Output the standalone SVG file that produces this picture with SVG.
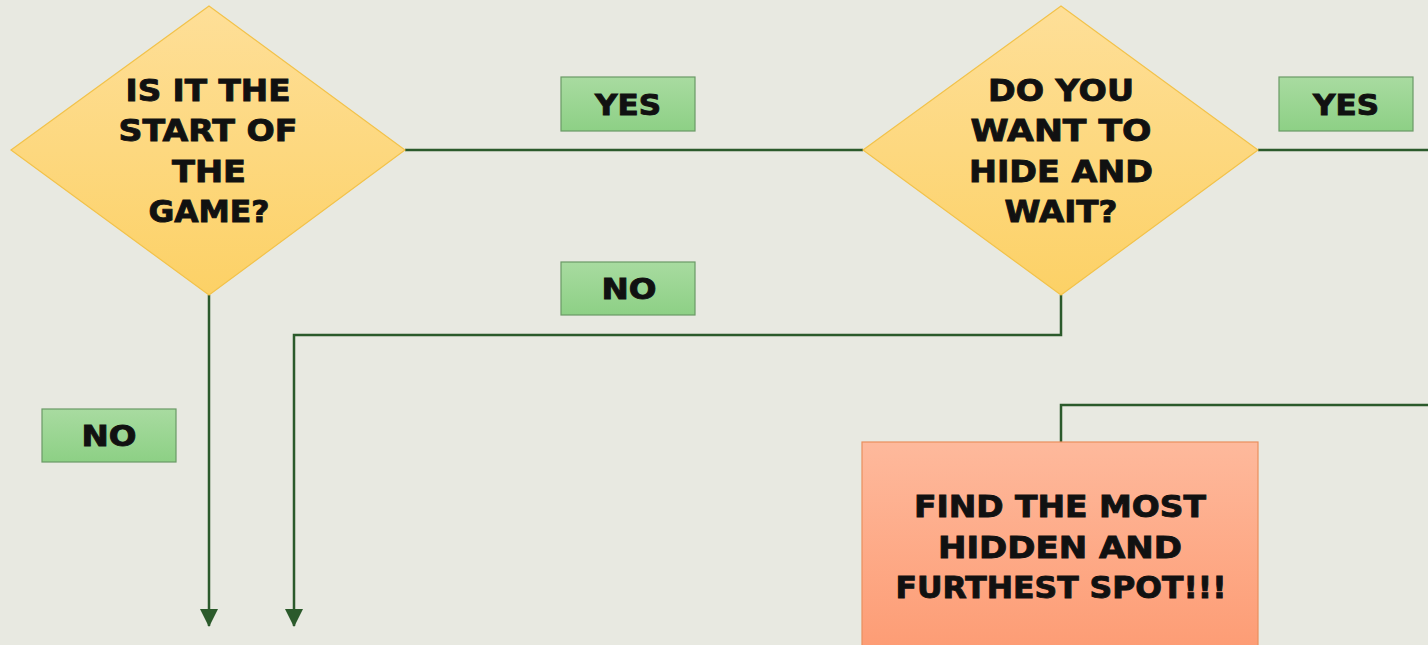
<svg xmlns="http://www.w3.org/2000/svg" width="1428" height="645" viewBox="0 0 1428 645">
<defs>
<linearGradient id="gy" x1="0" y1="0" x2="0" y2="1"><stop offset="0" stop-color="#fedf98"/><stop offset="1" stop-color="#fcd166"/></linearGradient>
<linearGradient id="gg" x1="0" y1="0" x2="0" y2="1"><stop offset="0" stop-color="#a8dba0"/><stop offset="1" stop-color="#8dd085"/></linearGradient>
<linearGradient id="go" x1="0" y1="0" x2="0" y2="1"><stop offset="0" stop-color="#feb99c"/><stop offset="1" stop-color="#fd9c74"/></linearGradient>
<marker id="arr" markerWidth="18" markerHeight="18" refX="17" refY="9" orient="auto" markerUnits="userSpaceOnUse" viewBox="0 0 18 18"><path d="M0,0 L18,9 L0,18 Z" fill="#2b5a2b"/></marker>
</defs>
<style>
.t{font-family:"DejaVu Sans","Liberation Sans",sans-serif;font-weight:bold;fill:#111;stroke:#111;stroke-width:0.9;text-anchor:middle}
.d{fill:url(#gy);stroke:#f2c24a;stroke-width:1.2}
.l{fill:url(#gg);stroke:#6a9a66;stroke-width:1.2}
.c{fill:none;stroke:#2b5a2b;stroke-width:2.5}
</style>
<rect width="1428" height="645" fill="#e8e9e1"/>
<g id="connectors">
<path class="c" d="M405,150 H863"/>
<path class="c" d="M1258,150 H1428"/>
<path class="c" d="M209,295 V626" marker-end="url(#arr)"/>
<path class="c" d="M1061,295 V335 H294 V626" marker-end="url(#arr)"/>
<path class="c" d="M1061,442 V405 H1428"/>
</g>
<g id="q1">
<polygon class="d" points="11,150 209,6 405,150 209,295"/>
<text class="t" font-size="30" x="208" y="101" textLength="165" lengthAdjust="spacingAndGlyphs">IS IT THE</text>
<text class="t" font-size="30" x="208" y="141" textLength="179" lengthAdjust="spacingAndGlyphs">START OF</text>
<text class="t" font-size="30" x="209" y="182" textLength="74" lengthAdjust="spacingAndGlyphs">THE</text>
<text class="t" font-size="30" x="209" y="222" textLength="121" lengthAdjust="spacingAndGlyphs">GAME?</text>
</g>
<g id="q2">
<polygon class="d" points="863,150 1061,6 1258,150 1061,295"/>
<text class="t" font-size="30" x="1061" y="101" textLength="146" lengthAdjust="spacingAndGlyphs">DO YOU</text>
<text class="t" font-size="30" x="1061" y="141" textLength="181" lengthAdjust="spacingAndGlyphs">WANT TO</text>
<text class="t" font-size="30" x="1061" y="182" textLength="184" lengthAdjust="spacingAndGlyphs">HIDE AND</text>
<text class="t" font-size="30" x="1061" y="222" textLength="113" lengthAdjust="spacingAndGlyphs">WAIT?</text>
</g>
<g id="yes1"><rect class="l" x="561" y="77" width="134" height="54"/><text class="t" x="628" y="115" font-size="28" textLength="66" lengthAdjust="spacingAndGlyphs">YES</text></g>
<g id="yes2"><rect class="l" x="1279" y="77" width="134" height="54"/><text class="t" x="1346" y="115" font-size="28" textLength="66" lengthAdjust="spacingAndGlyphs">YES</text></g>
<g id="no1"><rect class="l" x="561" y="262" width="134" height="53"/><text class="t" x="629" y="299" font-size="28" textLength="55" lengthAdjust="spacingAndGlyphs">NO</text></g>
<g id="no2"><rect class="l" x="42" y="409" width="134" height="53"/><text class="t" x="109" y="446" font-size="28" textLength="55" lengthAdjust="spacingAndGlyphs">NO</text></g>
<g id="action">
<rect x="862" y="442" width="396" height="210" fill="url(#go)" stroke="#ea8f5e" stroke-width="1.2"/>
<text class="t" font-size="30" x="1060" y="517" textLength="292" lengthAdjust="spacingAndGlyphs">FIND THE MOST</text>
<text class="t" font-size="30" x="1060" y="558" textLength="244" lengthAdjust="spacingAndGlyphs">HIDDEN AND</text>
<text class="t" font-size="30" x="1061" y="598" textLength="331" lengthAdjust="spacingAndGlyphs">FURTHEST SPOT!!!</text>
</g>
</svg>
